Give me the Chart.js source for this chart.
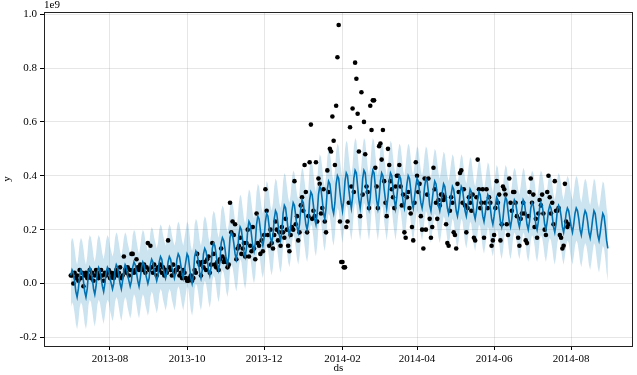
<!DOCTYPE html>
<html>
<head>
<meta charset="utf-8">
<script src="https://cdn.jsdelivr.net/npm/chart.js@4.4.1/dist/chart.umd.min.js"></script>
<style>
  html, body { margin: 0; padding: 0; background: #fff; }
  #wrap { width: 637px; height: 375px; }
</style>
</head>
<body>
<div id="wrap"><canvas id="chart" width="637" height="375"></canvas></div>
<script>
// one value per day starting at startDate, in units of 1e7 (axis is in 1e9)
const startDate = "2013-07-01";

// observed history (black dots), one row per week Mon..Sun
const yObserved = [
  3, 3, 0, 4, 2, 3, 1,
  5, 2, 4, -1, 3, 4, 2,
  3, 5, 2, 4, 1, 3, 5,
  4, 2, 3, 5, 3, 1, 4,
  3, 4, 5, 2, 4, 3, 2,
  4, 5, 3, 4, 6, 2, 3,
  10, 5, 4, 6, 3, 5, 11,
  11, 4, 5, 9, 6, 5, 7,
  6, 5, 7, 4, 6, 15, 5,
  14, 6, 4, 7, 5, 3, 6,
  5, 7, 4, 6, 3, 5, 4,
  16, 6, 5, 3, 7, 4, 5,
  5, 6, 3, 4, 2, 5, 4,
  2, 1, 1, 2, 3, 1, 2,
  5, 4, 11, 8, 7, 3, 8,
  6, 8, 5, 9, 10, 4, 7,
  15, 11, 7, 6, 8, 5, 9,
  13, 10, 8, 9, 8, 6, 7,
  30, 19, 23, 18, 22, 9, 13,
  14, 17, 11, 13, 15, 10, 15,
  20, 10, 14, 12, 21, 13, 9,
  26, 15, 14, 11, 16, 12, 18,
  35, 27, 18, 14, 20, 15, 13,
  18, 23, 20, 16, 19, 14, 21,
  19, 17, 24, 20, 14, 12, 18,
  21, 20, 38, 22, 25, 16, 19,
  29, 32, 27, 44, 34, 19, 25,
  45, 59, 24, 27, 25, 45, 23,
  39, 37, 26, 28, 35, 23, 19,
  42, 34, 50, 49, 62, 53, 44,
  66, 84, 96, 23, 8, 8, 6,
  6, 21, 23, 30, 58, 36, 65,
  34, 82, 76, 63, 49, 25, 71,
  33, 60, 48, 36, 34, 28, 66,
  57, 68, 68, 43, 36, 28, 51,
  52, 46, 57, 38, 30, 25, 50,
  44, 38, 35, 32, 28, 36, 40,
  40, 44, 36, 29, 33, 19, 17,
  32, 34, 28, 26, 21, 16, 30,
  45, 40, 34, 37, 25, 20, 13,
  39, 20, 33, 39, 24, 17, 21,
  43, 35, 30, 24, 31, 29, 33,
  33, 31, 32, 22, 15, 14, 27,
  32, 30, 19, 18, 13, 37, 34,
  41, 42, 30, 35, 29, 19, 28,
  32, 30, 27, 33, 17, 16, 32,
  46, 35, 28, 30, 35, 17, 30,
  35, 28, 32, 30, 14, 16, 18,
  28, 38, 30, 33, 16, 22, 36,
  35, 33, 22, 18, 39, 30, 27,
  34, 34, 30, 25, 17, 14, 24,
  26, 30, 26, 16, 15, 25, 34,
  39, 30, 33, 21, 24, 17, 26,
  31, 29, 33, 26, 20, 18, 34,
  40, 32, 26, 30, 22, 38, 27,
  27, 28, 18, 17, 13, 14, 37,
  23, 21, 22
];

// forecast line
const yhat = [
  3, 5, 4, 1, -3, -5, -2,
  3, 5, 4, 1, -3, -5, -2,
  4, 6, 5, 2, -2, -4, -1,
  4, 6, 5, 2, -1, -3, 0,
  4, 6, 5, 2, 0, -2, 0,
  5, 7, 6, 3, 0, -2, 1,
  5, 7, 6, 3, 1, -1, 1,
  6, 8, 7, 4, 1, -1, 2,
  6, 8, 7, 4, 2, 0, 2,
  7, 9, 8, 5, 3, 1, 3,
  8, 10, 9, 6, 4, 2, 4,
  8, 10, 9, 6, 4, 2, 4,
  9, 11, 10, 7, 4, 2, 5,
  8, 11, 10, 6, 2, 0, 3,
  10, 12, 11, 8, 4, 2, 5,
  11, 13, 12, 9, 5, 3, 6,
  13, 15, 14, 11, 7, 5, 8,
  15, 17, 16, 13, 9, 7, 10,
  17, 19, 18, 15, 11, 9, 12,
  18, 21, 20, 16, 12, 10, 13,
  20, 23, 22, 18, 14, 12, 15,
  22, 25, 24, 20, 16, 14, 17,
  23, 26, 25, 21, 17, 15, 18,
  24, 27, 26, 22, 18, 16, 19,
  26, 29, 28, 24, 20, 18, 21,
  27, 30, 29, 25, 21, 19, 22,
  28, 31, 30, 26, 22, 20, 23,
  31, 34, 33, 29, 24, 22, 26,
  33, 36, 35, 31, 26, 24, 28,
  35, 38, 37, 33, 28, 26, 30,
  37, 40, 39, 34, 30, 27, 31,
  38, 41, 40, 35, 31, 28, 32,
  39, 42, 41, 36, 31, 28, 32,
  39, 42, 41, 36, 31, 28, 32,
  39, 42, 41, 36, 31, 28, 32,
  38, 41, 40, 35, 31, 28, 32,
  38, 41, 40, 35, 31, 28, 32,
  37, 40, 39, 35, 30, 28, 32,
  37, 40, 39, 35, 30, 28, 32,
  36, 39, 38, 34, 30, 28, 31,
  36, 39, 38, 34, 29, 27, 31,
  35, 38, 37, 33, 29, 27, 30,
  34, 37, 36, 32, 28, 26, 29,
  33, 36, 35, 31, 27, 25, 28,
  33, 36, 35, 31, 27, 25, 28,
  32, 35, 34, 30, 26, 24, 27,
  31, 34, 33, 29, 25, 23, 26,
  30, 33, 32, 28, 24, 22, 25,
  29, 32, 31, 27, 23, 21, 24,
  29, 32, 31, 27, 23, 21, 24,
  29, 31, 30, 27, 23, 21, 24,
  28, 31, 30, 26, 22, 20, 23,
  28, 30, 29, 26, 22, 20, 23,
  28, 30, 29, 26, 22, 20, 23,
  27, 29, 28, 25, 21, 19, 22,
  27, 29, 28, 25, 21, 19, 22,
  26, 28, 27, 24, 21, 19, 22,
  26, 28, 27, 24, 20, 18, 21,
  25, 27, 26, 23, 19, 17, 20,
  24, 27, 26, 22, 18, 16, 19,
  23, 26, 25, 21, 16, 13
];

// uncertainty interval
const yhatLower = [
  -9, -7, -8, -11, -15, -17, -14,
  -9, -7, -8, -11, -15, -17, -14,
  -8, -6, -7, -10, -14, -16, -13,
  -8, -6, -7, -10, -13, -15, -12,
  -8, -6, -7, -10, -12, -14, -12,
  -7, -5, -6, -9, -12, -14, -11,
  -7, -5, -6, -9, -11, -13, -11,
  -6, -4, -5, -8, -11, -13, -10,
  -6, -4, -5, -8, -10, -12, -10,
  -5, -3, -4, -7, -9, -11, -9,
  -4, -2, -3, -6, -8, -10, -8,
  -4, -2, -3, -6, -8, -10, -8,
  -3, -1, -2, -5, -8, -10, -7,
  -4, -1, -2, -6, -10, -12, -9,
  -2, 0, -1, -4, -8, -10, -7,
  -1, 1, 0, -3, -7, -9, -6,
  1, 3, 2, -1, -5, -7, -4,
  3, 5, 4, 1, -3, -5, -2,
  5, 7, 6, 3, -1, -3, 0,
  6, 9, 8, 4, 0, -2, 1,
  8, 11, 10, 6, 2, 0, 3,
  10, 13, 12, 8, 4, 2, 5,
  11, 14, 13, 9, 5, 3, 6,
  12, 15, 14, 10, 6, 4, 7,
  14, 17, 16, 12, 8, 6, 9,
  15, 18, 17, 13, 9, 7, 10,
  16, 19, 18, 14, 10, 8, 11,
  19, 22, 21, 17, 12, 10, 14,
  21, 24, 23, 19, 14, 12, 16,
  23, 26, 25, 21, 16, 14, 18,
  25, 28, 27, 22, 18, 15, 19,
  26, 29, 28, 23, 19, 16, 20,
  27, 30, 29, 24, 19, 16, 20,
  27, 30, 29, 24, 19, 16, 20,
  27, 30, 29, 24, 19, 16, 20,
  26, 29, 28, 23, 19, 16, 20,
  26, 29, 28, 23, 19, 16, 20,
  25, 28, 27, 23, 18, 16, 20,
  25, 28, 27, 23, 18, 16, 20,
  24, 27, 26, 22, 18, 16, 19,
  24, 27, 26, 22, 17, 15, 19,
  23, 26, 25, 21, 17, 15, 18,
  22, 25, 24, 20, 16, 14, 17,
  21, 24, 23, 19, 15, 13, 16,
  21, 24, 23, 19, 15, 13, 16,
  20, 23, 22, 18, 14, 12, 15,
  19, 22, 21, 17, 13, 11, 14,
  18, 21, 20, 16, 12, 10, 13,
  17, 20, 19, 15, 11, 9, 12,
  17, 20, 19, 15, 11, 9, 12,
  17, 19, 18, 15, 11, 9, 12,
  16, 19, 18, 14, 10, 8, 11,
  16, 18, 17, 14, 10, 8, 11,
  16, 18, 17, 14, 10, 8, 11,
  15, 17, 16, 13, 9, 7, 10,
  15, 17, 16, 13, 9, 7, 10,
  14, 16, 15, 12, 9, 7, 10,
  14, 16, 15, 12, 8, 6, 9,
  13, 15, 14, 11, 7, 5, 8,
  12, 15, 14, 10, 6, 4, 7,
  11, 14, 13, 9, 4, 1
];

const yhatUpper = [
  15, 17, 16, 13, 9, 7, 10,
  15, 17, 16, 13, 9, 7, 10,
  16, 18, 17, 14, 10, 8, 11,
  16, 18, 17, 14, 11, 9, 12,
  16, 18, 17, 14, 12, 10, 12,
  17, 19, 18, 15, 12, 10, 13,
  17, 19, 18, 15, 13, 11, 13,
  18, 20, 19, 16, 13, 11, 14,
  18, 20, 19, 16, 14, 12, 14,
  19, 21, 20, 17, 15, 13, 15,
  20, 22, 21, 18, 16, 14, 16,
  20, 22, 21, 18, 16, 14, 16,
  21, 23, 22, 19, 16, 14, 17,
  20, 23, 22, 18, 14, 12, 15,
  22, 24, 23, 20, 16, 14, 17,
  23, 25, 24, 21, 17, 15, 18,
  25, 27, 26, 23, 19, 17, 20,
  27, 29, 28, 25, 21, 19, 22,
  29, 31, 30, 27, 23, 21, 24,
  30, 33, 32, 28, 24, 22, 25,
  32, 35, 34, 30, 26, 24, 27,
  34, 37, 36, 32, 28, 26, 29,
  35, 38, 37, 33, 29, 27, 30,
  36, 39, 38, 34, 30, 28, 31,
  38, 41, 40, 36, 32, 30, 33,
  39, 42, 41, 37, 33, 31, 34,
  40, 43, 42, 38, 34, 32, 35,
  43, 46, 45, 41, 36, 34, 38,
  45, 48, 47, 43, 38, 36, 40,
  47, 50, 49, 45, 40, 38, 42,
  49, 52, 51, 46, 42, 39, 43,
  50, 53, 52, 47, 43, 40, 44,
  51, 54, 53, 48, 43, 40, 44,
  51, 54, 53, 48, 43, 40, 44,
  51, 54, 53, 48, 43, 40, 44,
  50, 53, 52, 47, 43, 40, 44,
  50, 53, 52, 47, 43, 40, 44,
  49, 52, 51, 47, 42, 40, 44,
  49, 52, 51, 47, 42, 40, 44,
  48, 51, 50, 46, 42, 40, 43,
  48, 51, 50, 46, 41, 39, 43,
  47, 50, 49, 45, 41, 39, 42,
  46, 49, 48, 44, 40, 38, 41,
  45, 48, 47, 43, 39, 37, 40,
  45, 48, 47, 43, 39, 37, 40,
  44, 47, 46, 42, 38, 36, 39,
  43, 46, 45, 41, 37, 35, 38,
  42, 45, 44, 40, 36, 34, 37,
  41, 44, 43, 39, 35, 33, 36,
  41, 44, 43, 39, 35, 33, 36,
  41, 43, 42, 39, 35, 33, 36,
  40, 43, 42, 38, 34, 32, 35,
  40, 42, 41, 38, 34, 32, 35,
  40, 42, 41, 38, 34, 32, 35,
  39, 41, 40, 37, 33, 31, 34,
  39, 41, 40, 37, 33, 31, 34,
  38, 40, 39, 36, 33, 31, 34,
  38, 40, 39, 36, 32, 30, 33,
  37, 39, 38, 35, 31, 29, 32,
  36, 39, 38, 34, 30, 28, 31,
  35, 38, 37, 33, 28, 25
];

const xTickDates = ["2013-08-01", "2013-10-01", "2013-12-01", "2014-02-01", "2014-04-01", "2014-06-01", "2014-08-01"];
const xTickLabels = ["2013-08", "2013-10", "2013-12", "2014-02", "2014-04", "2014-06", "2014-08"];
const yTicks = [-0.2, 0.0, 0.2, 0.4, 0.6, 0.8, 1.0];

const DAY = 86400000;
const t0 = Date.parse(startDate);
const dayIndex = (s) => Math.round((Date.parse(s) - t0) / DAY);
const toPoints = (arr) => arr.map((v, i) => ({ x: i, y: v / 100 }));

const serif = "'Liberation Serif', 'DejaVu Serif', serif";
Chart.defaults.font.family = serif;
Chart.defaults.font.size = 11;
Chart.defaults.color = "#000";

const gridStyle = {
  color: "rgba(128,128,128,0.2)",
  lineWidth: 1,
  tickColor: "#000",
  tickLength: 4,
};

// matplotlib-like box around the axes plus the "1e9" offset label
const frame = {
  id: "frame",
  afterDraw(chart) {
    const { ctx, chartArea: a } = chart;
    ctx.save();
    ctx.strokeStyle = "#222";
    ctx.lineWidth = 1;
    ctx.strokeRect(a.left + 0.5, a.top + 0.5, a.right - a.left - 1, a.bottom - a.top);
    ctx.fillStyle = "#000";
    ctx.font = "11px " + serif;
    ctx.textBaseline = "bottom";
    ctx.textAlign = "left";
    ctx.fillText("1e9", a.left, a.top - 1);
    ctx.restore();
  },
};

new Chart(document.getElementById("chart"), {
  type: "line",
  data: {
    datasets: [
      {
        label: "yhat_lower",
        data: toPoints(yhatLower),
        borderColor: "transparent",
        borderWidth: 0,
        pointRadius: 0,
        fill: false,
        tension: 0,
        order: 4,
      },
      {
        label: "yhat_upper",
        data: toPoints(yhatUpper),
        borderColor: "transparent",
        borderWidth: 0,
        pointRadius: 0,
        backgroundColor: "rgba(0,114,178,0.2)",
        fill: "-1",
        tension: 0,
        order: 3,
      },
      {
        label: "y",
        data: toPoints(yObserved),
        showLine: false,
        pointRadius: 2.3,
        pointBorderWidth: 0,
        pointBackgroundColor: "#000",
        borderColor: "#000",
        order: 2,
      },
      {
        label: "yhat",
        data: toPoints(yhat),
        borderColor: "#0072B2",
        borderWidth: 1.6,
        pointRadius: 0,
        fill: false,
        tension: 0,
        order: 1,
      },
    ],
  },
  options: {
    responsive: false,
    animation: false,
    devicePixelRatio: 1,
    layout: { padding: { top: 12, right: 3, left: 0, bottom: 0 } },
    plugins: { legend: { display: false }, tooltip: { enabled: false } },
    scales: {
      x: {
        type: "linear",
        min: -21.2,
        max: 444.9,
        grid: gridStyle,
        border: { display: false },
        afterBuildTicks: (s) => { s.ticks = xTickDates.map((d) => ({ value: dayIndex(d) })); },
        afterFit: (s) => { s.height = 29; },
        ticks: {
          autoSkip: false,
          maxRotation: 0,
          padding: 3,
          callback: (v, i) => xTickLabels[i],
        },
        title: { display: true, text: "ds", padding: { top: 0, bottom: 0 } },
      },
      y: {
        type: "linear",
        min: -0.232,
        max: 1.008,
        grid: gridStyle,
        border: { display: false },
        afterBuildTicks: (s) => { s.ticks = yTicks.map((v) => ({ value: v })); },
        afterFit: (s) => { s.width = 44; },
        ticks: {
          padding: 3,
          callback: (v) => Number(v).toFixed(1),
        },
        title: { display: true, text: "y", padding: { top: 1, bottom: 0 } },
      },
    },
  },
  plugins: [frame],
});
</script>
</body>
</html>
